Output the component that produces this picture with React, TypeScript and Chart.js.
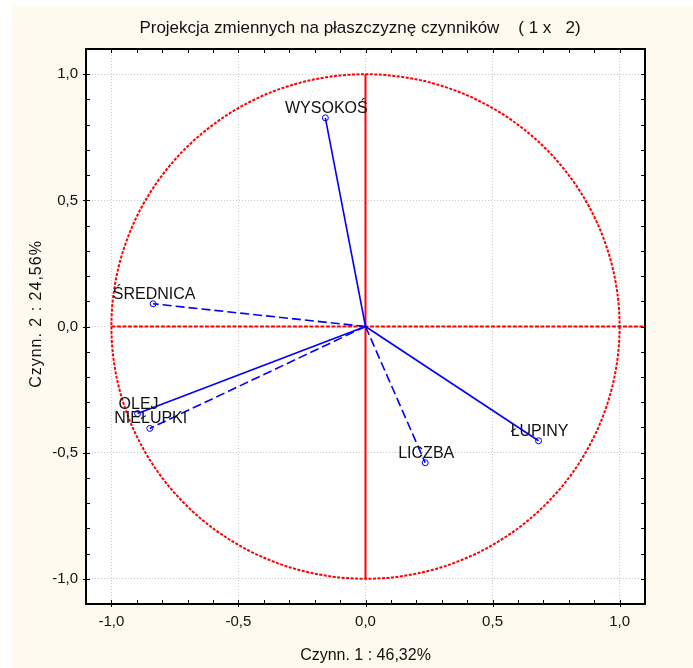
import React, { useEffect, useRef } from "react";
import { Chart, registerables } from "chart.js";

Chart.register(...registerables);

// Factor loadings of the variables on the first two factors
const variableNames = ["WYSOKOŚ", "ŚREDNICA", "OLEJ", "NIEŁUPKI", "ŁUPINY", "LICZBA"];
const factor1Loadings = [-0.158, -0.836, -0.897, -0.849, 0.681, 0.235];
const factor2Loadings = [0.827, 0.09, -0.345, -0.404, -0.453, -0.54];
const dashedVectors = [false, true, false, true, false, true];

// Axis settings
const axisTicks = [-1.0, -0.5, 0.0, 0.5, 1.0];
const axisMin = -1.1;
const axisMax = 1.1;

const chartTitle = "Projekcja zmiennych na płaszczyznę czynników    ( 1 x   2)";
const xAxisTitle = "Czynn. 1 : 46,32%";
const yAxisTitle = "Czynn. 2 : 24,56%";

const FONT = '"Liberation Sans", Arial, sans-serif';
const TEXT = "#111111";
const CREAM = "#fffaf0";
const BLUE = "#0000ff";
const RED = "#ff0000";

const formatTick = (v: number) => v.toFixed(1).replace(".", ",");

export default function App() {
  const canvasRef = useRef<HTMLCanvasElement>(null);

  useEffect(() => {
    const canvas = canvasRef.current;
    if (!canvas) return;

    // Page + plot backgrounds
    const backgroundPlugin = {
      id: "backgrounds",
      beforeDraw(chart: any) {
        const { ctx, chartArea, width, height } = chart;
        ctx.save();
        ctx.fillStyle = "#ffffff";
        ctx.fillRect(0, 0, width, height);
        ctx.fillStyle = CREAM;
        ctx.fillRect(12, 6, width - 12, height - 6);
        ctx.fillStyle = "#ffffff";
        ctx.fillRect(chartArea.left, chartArea.top, chartArea.right - chartArea.left, chartArea.bottom - chartArea.top);
        ctx.restore();
      },
    };

    // Unit circle and the red factor axes
    const referencePlugin = {
      id: "unitCircle",
      beforeDatasetsDraw(chart: any) {
        const { ctx } = chart;
        const xs = chart.scales.x;
        const ys = chart.scales.y;
        const x0 = xs.getPixelForValue(0);
        const y0 = ys.getPixelForValue(0);
        const rx = xs.getPixelForValue(1) - x0;
        const ry = y0 - ys.getPixelForValue(1);
        ctx.save();
        ctx.strokeStyle = RED;
        ctx.lineWidth = 2;

        ctx.setLineDash([3, 1.5]);
        ctx.beginPath();
        ctx.ellipse(x0, y0, rx, ry, 0, 0, Math.PI * 2);
        ctx.stroke();

        ctx.setLineDash([4, 1.5]);
        ctx.beginPath();
        ctx.moveTo(xs.getPixelForValue(-1), y0);
        ctx.lineTo(xs.getPixelForValue(axisMax), y0);
        ctx.stroke();

        ctx.setLineDash([]);
        ctx.beginPath();
        ctx.moveTo(x0, ys.getPixelForValue(1));
        ctx.lineTo(x0, ys.getPixelForValue(-1));
        ctx.stroke();
        ctx.restore();
      },
    };

    // Variable names above the vector ends
    const labelPlugin = {
      id: "vectorLabels",
      afterDatasetsDraw(chart: any) {
        const { ctx } = chart;
        ctx.save();
        ctx.font = `16px ${FONT}`;
        ctx.fillStyle = TEXT;
        ctx.textAlign = "center";
        ctx.textBaseline = "alphabetic";
        variableNames.forEach((name, i) => {
          const meta = chart.getDatasetMeta(i);
          const pt = meta.data[1];
          ctx.fillText(name, pt.x + 1, pt.y - 5);
        });
        ctx.restore();
      },
    };

    // Frame, tick marks, chart title and the vertical axis title
    const framePlugin = {
      id: "frame",
      afterDraw(chart: any) {
        const { ctx, chartArea } = chart;
        const { left, right, top, bottom } = chartArea;
        const xs = chart.scales.x;
        const ys = chart.scales.y;
        ctx.save();
        ctx.strokeStyle = "#000000";
        ctx.lineWidth = 1;
        ctx.beginPath();
        for (let k = -11; k <= 11; k++) {
          const v = k / 10;
          const major = k % 5 === 0;
          const px = Math.round(xs.getPixelForValue(v)) + 0.5;
          const py = Math.round(ys.getPixelForValue(v)) + 0.5;
          ctx.moveTo(px, bottom + (major ? 3 : 0));
          ctx.lineTo(px, bottom - 4);
          ctx.moveTo(px, top);
          ctx.lineTo(px, top + 4);
          ctx.moveTo(left - (major ? 3 : 0), py);
          ctx.lineTo(left + 4, py);
          ctx.moveTo(right, py);
          ctx.lineTo(right - 4, py);
        }
        ctx.stroke();

        ctx.lineWidth = 2;
        ctx.strokeRect(left, top, right - left, bottom - top);

        ctx.fillStyle = TEXT;
        ctx.textBaseline = "alphabetic";
        ctx.font = `17px ${FONT}`;
        ctx.textAlign = "center";
        ctx.fillText(chartTitle, 360, 32.5);

        // rotated title of the vertical axis
        ctx.translate(37, 314);
        ctx.rotate(-Math.PI / 2);
        ctx.font = `16px ${FONT}`;
        (ctx as any).letterSpacing = "1px";
        ctx.textAlign = "center";
        ctx.textBaseline = "middle";
        ctx.fillText(yAxisTitle, 0, 0);
        ctx.restore();
      },
    };

    const chart = new Chart(canvas, {
      type: "scatter",
      data: {
        datasets: variableNames.map((name, i) => ({
          label: name,
          data: [
            { x: 0, y: 0 },
            { x: factor1Loadings[i], y: factor2Loadings[i] },
          ],
          showLine: true,
          borderColor: BLUE,
          borderWidth: 1.6,
          borderDash: dashedVectors[i] ? [9, 4] : [],
          pointRadius: [0, 3],
          pointHoverRadius: [0, 3],
          pointBorderColor: BLUE,
          pointBackgroundColor: "rgba(0,0,0,0)",
          pointBorderWidth: 1,
        })),
      },
      options: {
        responsive: false,
        animation: false,
        events: [],
        layout: { padding: { top: 49, right: 48, left: 0, bottom: 0 } },
        plugins: {
          legend: { display: false },
          tooltip: { enabled: false },
          title: { display: false },
        },
        scales: {
          x: {
            type: "linear",
            min: axisMin,
            max: axisMax,
            afterBuildTicks: (s: any) => {
              s.ticks = axisTicks.map((v) => ({ value: v }));
            },
            afterFit: (s: any) => {
              s.height = 64;
            },
            grid: { color: "#c8c8c8", lineWidth: 1, drawTicks: false },
            border: { display: false, dash: [1, 2] },
            ticks: {
              padding: 9,
              autoSkip: false,
              maxRotation: 0,
              color: TEXT,
              font: { family: FONT, size: 15 },
              callback: (v: any) => formatTick(Number(v)),
            },
            title: {
              display: true,
              text: xAxisTitle,
              color: TEXT,
              font: { family: FONT, size: 16 },
              padding: { top: 0, bottom: 3 },
            },
          },
          y: {
            type: "linear",
            min: axisMin,
            max: axisMax,
            afterBuildTicks: (s: any) => {
              s.ticks = axisTicks.map((v) => ({ value: v }));
            },
            afterFit: (s: any) => {
              s.width = 86;
            },
            grid: { color: "#c8c8c8", lineWidth: 1, drawTicks: false },
            border: { display: false, dash: [1, 2] },
            ticks: {
              padding: 8,
              autoSkip: false,
              color: TEXT,
              font: { family: FONT, size: 15 },
              callback: (v: any) => formatTick(Number(v)),
            },
            title: { display: false },
          },
        },
      },
      plugins: [backgroundPlugin, referencePlugin, labelPlugin, framePlugin],
    } as any);

    return () => chart.destroy();
  }, []);

  return (
    <div style={{ position: "absolute", left: 0, top: 0, width: 693, height: 668 }}>
      <canvas ref={canvasRef} width={693} height={668} style={{ display: "block" }} />
    </div>
  );
}
